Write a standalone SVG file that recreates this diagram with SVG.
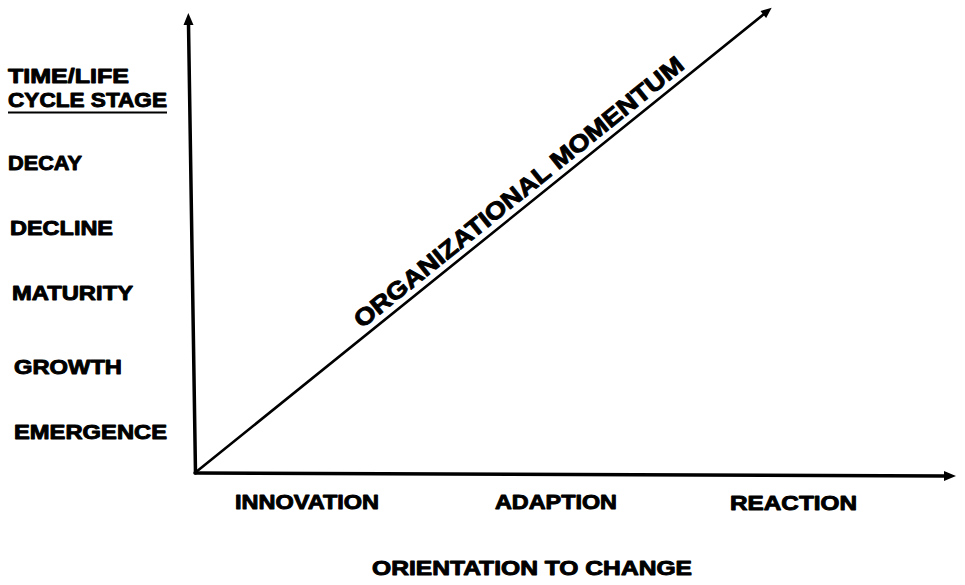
<svg xmlns="http://www.w3.org/2000/svg" width="965" height="585" viewBox="0 0 965 585">
  <style>
    .lbl { font-family: "Liberation Sans", Arial, sans-serif; font-weight: bold; font-size: 19.5px; fill: #000; stroke: #000; stroke-width: 0.9px; stroke-linejoin: round; }
    .axis { stroke: #000; stroke-width: 3.5; fill: none; stroke-linecap: round; }
    .trend { stroke: #000; stroke-width: 2.6; fill: none; stroke-linecap: round; }
  </style>
  <defs>
    <marker id="head" viewBox="0 0 12 10" refX="1" refY="5" markerWidth="13" markerHeight="10" markerUnits="userSpaceOnUse" orient="auto">
      <path d="M0,0 L12,5 L0,10 Z" fill="#000"/>
    </marker>
    <marker id="headSmall" viewBox="0 0 12 10" refX="1" refY="5" markerWidth="12" markerHeight="9" markerUnits="userSpaceOnUse" orient="auto">
      <path d="M0,0 L12,5 L0,10 Z" fill="#000"/>
    </marker>
  </defs>
  <rect width="965" height="585" fill="#fff"/>

  <g id="connectors">
    <line id="axis-y" class="axis" x1="195.5" y1="473" x2="188.5" y2="24" marker-end="url(#head)"/>
    <line id="axis-x" class="axis" x1="195" y1="473" x2="945" y2="476" marker-end="url(#head)"/>
    <line id="momentum" class="trend" x1="196" y1="472" x2="764" y2="14" marker-end="url(#headSmall)"/>
  </g>

  <g id="stage-axis-title">
    <text class="lbl" x="8" y="83" textLength="121" lengthAdjust="spacingAndGlyphs">TIME/LIFE</text>
    <text class="lbl" x="8" y="107" textLength="159" lengthAdjust="spacingAndGlyphs">CYCLE STAGE</text>
    <line x1="8" y1="112.5" x2="167" y2="112.5" stroke="#000" stroke-width="2"/>
  </g>
  <g id="stage-decay"><text class="lbl" x="8" y="170" textLength="74" lengthAdjust="spacingAndGlyphs">DECAY</text></g>
  <g id="stage-decline"><text class="lbl" x="10" y="235" textLength="103" lengthAdjust="spacingAndGlyphs">DECLINE</text></g>
  <g id="stage-maturity"><text class="lbl" x="12" y="300" textLength="121" lengthAdjust="spacingAndGlyphs">MATURITY</text></g>
  <g id="stage-growth"><text class="lbl" x="14" y="374" textLength="108" lengthAdjust="spacingAndGlyphs">GROWTH</text></g>
  <g id="stage-emergence"><text class="lbl" x="14" y="439" textLength="153" lengthAdjust="spacingAndGlyphs">EMERGENCE</text></g>

  <g id="orient-innovation"><text class="lbl" x="235" y="509" textLength="144" lengthAdjust="spacingAndGlyphs">INNOVATION</text></g>
  <g id="orient-adaption"><text class="lbl" x="495" y="509" textLength="122" lengthAdjust="spacingAndGlyphs">ADAPTION</text></g>
  <g id="orient-reaction"><text class="lbl" x="730" y="510" textLength="127" lengthAdjust="spacingAndGlyphs">REACTION</text></g>
  <g id="orient-axis-title"><text class="lbl" x="372" y="575" textLength="320" lengthAdjust="spacingAndGlyphs">ORIENTATION TO CHANGE</text></g>

  <g id="momentum-label">
    <text class="lbl" style="font-size:24px" transform="translate(362,329) rotate(-38.9)" x="0" y="0" textLength="416" lengthAdjust="spacingAndGlyphs">ORGANIZATIONAL MOMENTUM</text>
  </g>
</svg>
